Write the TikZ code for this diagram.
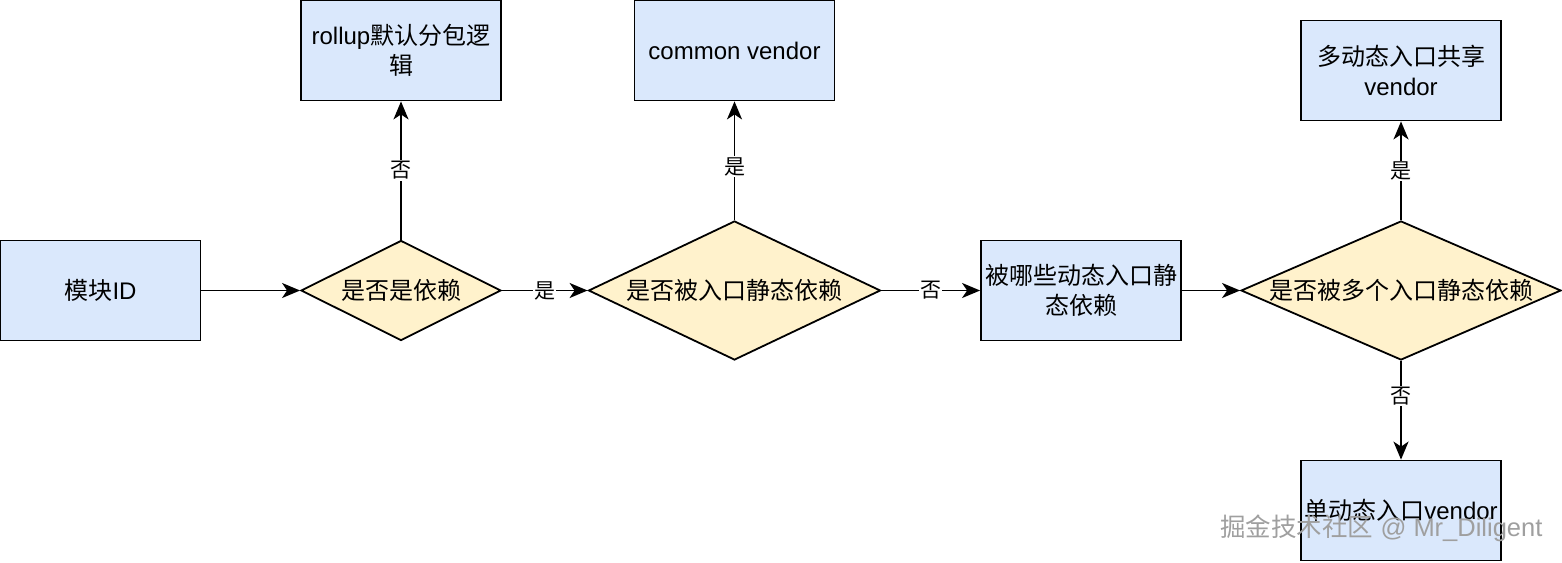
\documentclass[tikz,border=0pt]{standalone}
\usepackage{fontspec}
\setmainfont{Liberation Sans}
\newfontfamily\cjk{Noto Sans CJK SC}
\usepackage{xcolor}
\usetikzlibrary{arrows.meta,shapes.geometric}

\definecolor{boxblue}{HTML}{DAE8FC}
\definecolor{decyellow}{HTML}{FFF2CC}
\newcommand{\zh}[1]{{\cjk #1}}

\tikzset{
    proc/.style={draw,line width=1.8pt,fill=boxblue,minimum width=200pt,minimum height=100pt,
        align=center,inner sep=2pt,font=\fontsize{24}{30}\selectfont},
    decide/.style={draw,line width=1.8pt,fill=decyellow,diamond,inner sep=0pt,
        font=\fontsize{24}{30}\selectfont},
    arr/.style={line width=1.8pt,-{Stealth[length=18pt,width=15pt,inset=5pt]}},
    lbl/.style={fill=white,inner sep=1pt,font=\fontsize{21}{24}\selectfont}
}

\begin{document}
\begin{tikzpicture}[x=1pt,y=-1pt]
    \useasboundingbox (0,0) rectangle (1562,562);

    % Process boxes
    \node[proc] (id)     at (100.5,290.5) {\zh{模块}ID};
    \node[proc] (rollup) at (401,50.5)    {rollup\zh{默认分包逻}\\\zh{辑}};
    \node[proc] (common) at (734.5,50.5)  {common vendor};
    \node[proc] (dyn)    at (1081,290.5)  {\zh{被哪些动态入口静}\\\zh{态依赖}};
    \node[proc] (shared) at (1401,70.5)   {\zh{多动态入口共享}\\vendor};
    \node[proc] (single) at (1401,510.5)  {\zh{单动态入口}vendor};

    % Decisions
    \node[decide,aspect=2,minimum width=200pt,minimum height=100pt] (isdep) at (401,290.5) {\zh{是否是依赖}};
    \node[decide,aspect=2.1,minimum width=292pt,minimum height=139pt] (entry) at (734.5,290.5) {\zh{是否被入口静态依赖}};
    \node[decide,aspect=2.3,minimum width=320pt,minimum height=139pt] (multi) at (1401,290.5) {\zh{是否被多个入口静态依赖}};

    % Connectors
    \draw[arr] (id) -- (isdep);
    \draw[arr] (isdep) -- node[lbl] {\zh{否}} (rollup);
    \draw[arr] (isdep) -- node[lbl] {\zh{是}} (entry);
    \draw[arr] (entry) -- node[lbl,pos=0.45] {\zh{是}} (common);
    \draw[arr] (entry) -- node[lbl] {\zh{否}} (dyn);
    \draw[arr] (dyn) -- (multi);
    \draw[arr] (multi) -- node[lbl] {\zh{是}} (shared);
    \draw[arr] (multi) -- node[lbl,pos=0.36] {\zh{否}} (single);

    % Watermark
    \node[text=gray!75,font=\fontsize{25.5}{28}\selectfont,anchor=east] (mark) at (1546,528) {\zh{掘金技术社区} @ Mr\_Diligent};
\end{tikzpicture}
\end{document}
